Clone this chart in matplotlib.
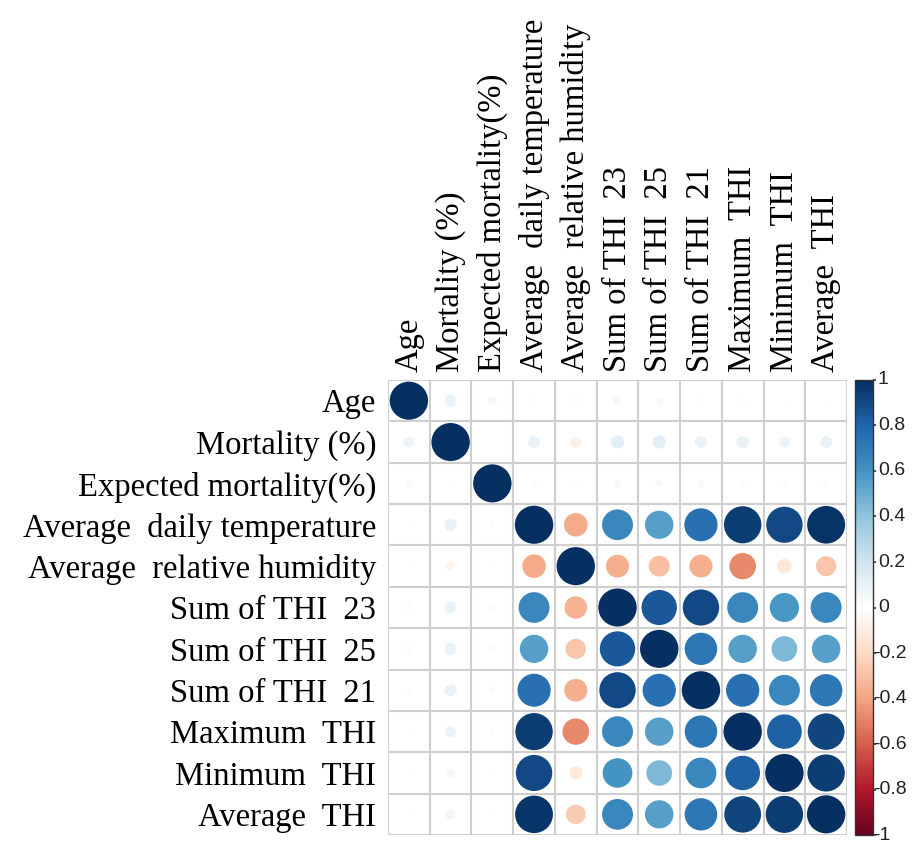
import numpy as np
import matplotlib
matplotlib.use('Agg')
import matplotlib.pyplot as plt
from matplotlib.colors import LinearSegmentedColormap, Normalize
from matplotlib.patches import Circle
from matplotlib.cm import ScalarMappable

# ---------------- data ----------------
row_labels = ['Age', 'Mortality (%)', 'Expected mortality(%)',
              'Average  daily temperature', 'Average  relative humidity',
              'Sum of THI  23', 'Sum of THI  25', 'Sum of THI  21',
              'Maximum  THI', 'Minimum  THI', 'Average  THI']
col_labels = ['Age', 'Mortality (%)', 'Expected mortality(%)',
              'Average  daily temperature', 'Average  relative humidity',
              'Sum of THI  23', 'Sum of THI  25', 'Sum of THI  21',
              'Maximum  THI', 'Minimum  THI', 'Average  THI']

row_age = [1.00, 0.10, 0.05, 0.02, 0.02, 0.05, 0.04, 0.02, 0.02, 0.01, 0.01]
row_mort = [0.08, 1.00, 0.00, 0.10, -0.08, 0.12, 0.12, 0.10, 0.10, 0.08, 0.10]
row_exp = [0.04, 0.02, 1.00, 0.03, 0.02, 0.04, 0.04, 0.03, 0.03, 0.02, 0.03]
row_temp = [0.01, 0.10, 0.03, 1.00, -0.38, 0.65, 0.55, 0.75, 0.95, 0.90, 0.98]
row_rh = [0.01, -0.06, 0.01, -0.38, 1.00, -0.36, -0.30, -0.36, -0.48, -0.14, -0.28]
row_thi23 = [0.03, 0.10, 0.03, 0.65, -0.35, 1.00, 0.85, 0.90, 0.65, 0.58, 0.65]
row_thi25 = [0.03, 0.10, 0.03, 0.55, -0.28, 0.85, 1.00, 0.72, 0.55, 0.45, 0.55]
row_thi21 = [0.02, 0.10, 0.03, 0.75, -0.36, 0.90, 0.75, 1.00, 0.75, 0.65, 0.72]
row_max = [0.01, 0.08, 0.02, 0.95, -0.48, 0.65, 0.55, 0.72, 1.00, 0.82, 0.92]
row_min = [0.01, 0.06, 0.01, 0.90, -0.12, 0.60, 0.45, 0.65, 0.82, 1.00, 0.95]
row_avg = [0.01, 0.07, 0.01, 0.97, -0.26, 0.65, 0.55, 0.72, 0.92, 0.95, 1.00]

corr = np.array([row_age, row_mort, row_exp, row_temp, row_rh, row_thi23,
                 row_thi25, row_thi21, row_max, row_min, row_avg])

cbar_ticks = [-1, -0.8, -0.6, -0.4, -0.2, 0, 0.2, 0.4, 0.6, 0.8, 1]

# corrplot RdBu palette
cmap = LinearSegmentedColormap.from_list('corr', [
    '#67001F', '#B2182B', '#D6604D', '#F4A582', '#FDDBC7', '#FFFFFF',
    '#D1E5F0', '#92C5DE', '#4393C3', '#2166AC', '#053061'])
norm = Normalize(-1, 1)

# ---------------- plot ----------------
fig = plt.figure(figsize=(9.13, 8.48), dpi=100)
ax = fig.add_axes([0.425, 0.0153, 0.5027, 0.5366])

n = len(row_labels)
for i in range(n):
    for j in range(n):
        r = corr[i, j]
        if r == 0:
            continue
        rad = 0.46 * np.sqrt(abs(r))
        ax.add_patch(Circle((j, i), rad, facecolor=cmap(norm(r)),
                            edgecolor='none', zorder=3))

grid_pos = np.arange(-0.5, n, 1.0)
ax.vlines(grid_pos, -0.5, n - 0.5, color='#cfcfcf', linewidth=1.5, zorder=2)
ax.hlines(grid_pos, -0.5, n - 0.5, color='#cfcfcf', linewidth=1.5, zorder=2)

ax.set_xlim(-0.5, n - 0.5)
ax.set_ylim(n - 0.5, -0.5)
for s in ax.spines.values():
    s.set_visible(False)

ax.set_yticks(range(n))
ax.set_yticklabels(row_labels, fontsize=23.5, family='Liberation Serif')
ax.xaxis.tick_top()
ax.set_xticks(range(n))
ax.set_xticklabels(col_labels, fontsize=23.5, family='Liberation Serif',
                   rotation=90, va='bottom')
ax.tick_params(axis='y', length=0, pad=8.5)
ax.tick_params(axis='x', length=0, pad=6)

# colour legend
cax = fig.add_axes([0.9365, 0.0153, 0.0197, 0.5366])
cb = fig.colorbar(ScalarMappable(norm=norm, cmap=cmap), cax=cax, ticks=cbar_ticks)
cb.ax.set_yticklabels([])
cb.ax.tick_params(length=2.5, width=1.2, color='#333333')
cb.outline.set_linewidth(1)
cb.outline.set_edgecolor('#333333')
for t in cbar_ticks:
    # the minus of negative labels sits on the tick mark, as in corrplot
    dx = 0 if t < 0 else 3.5
    cb.ax.annotate(f'{t:g}', xy=(1, t), xycoords=('axes fraction', 'data'),
                   xytext=(dx, 0), textcoords='offset points',
                   ha='left', va='center', fontsize=14,
                   family='Liberation Sans', color='#222222')

fig.savefig('out.png', dpi=100)
